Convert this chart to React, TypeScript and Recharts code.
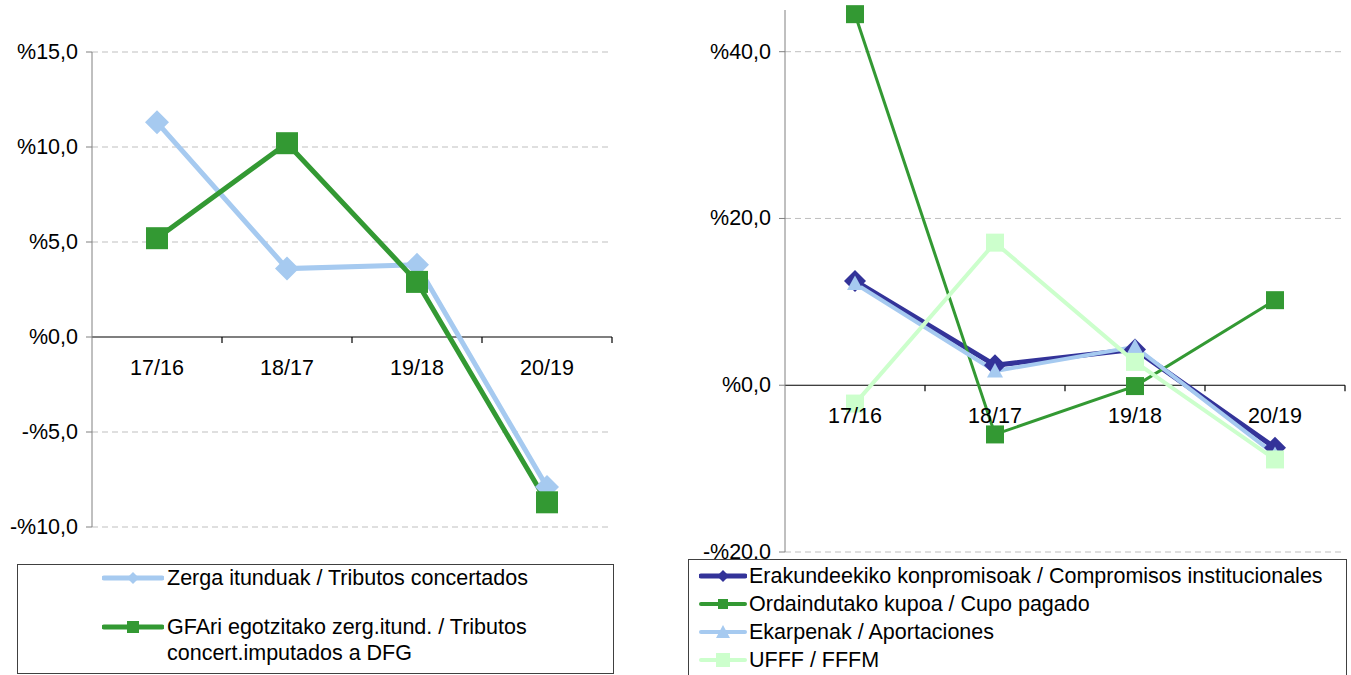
import React from 'react';
import { LineChart, Line, XAxis, YAxis, ReferenceLine } from 'recharts';

const categories = ['17/16', '18/17', '19/18', '20/19'];

// left chart
const zergaItunduak = [11.3, 3.6, 3.8, -7.9];
const gfariEgotzitako = [5.2, 10.2, 2.9, -8.7];
const leftTicks = [-10, -5, 0, 5, 10, 15];

// right chart
const erakundeekiko = [12.5, 2.4, 4.3, -7.5];
const ordaindutakoKupoa = [44.5, -5.9, -0.1, 10.2];
const ekarpenak = [12.2, 1.7, 4.6, -8.3];
const ufff = [-2.2, 17.1, 2.8, -8.9];
const rightTicks = [-20, 0, 20, 40];

const leftData = categories.map((c, i) => ({ name: c, zerga: zergaItunduak[i], gfa: gfariEgotzitako[i] }));
const rightData = categories.map((c, i) => ({
    name: c,
    erak: erakundeekiko[i],
    kupo: ordaindutakoKupoa[i],
    ekar: ekarpenak[i],
    ufff: ufff[i],
}));

const FONT = '"Liberation Sans", Arial, sans-serif';
const FS = 21.5;
const DARK_BLUE = '#333399';
const GREEN = '#339933';
const LIGHT_BLUE = '#A6CAF0';
const PALE_GREEN = '#CCFFCC';

const fmt = (v: number) => (v < 0 ? '-' : '') + '%' + Math.abs(v).toFixed(1).replace('.', ',');

const diamond = (color: string, r: number) => (p: any) => (
    <polygon key={p.index} points={`${p.cx},${p.cy - r} ${p.cx + r},${p.cy} ${p.cx},${p.cy + r} ${p.cx - r},${p.cy}`} fill={color} />
);
const square = (color: string, r: number) => (p: any) => (
    <rect key={p.index} x={p.cx - r} y={p.cy - r} width={r * 2} height={r * 2} fill={color} />
);
const triangle = (color: string, r: number) => (p: any) => (
    <polygon key={p.index} points={`${p.cx},${p.cy - r} ${p.cx + r},${p.cy + r * 0.8} ${p.cx - r},${p.cy + r * 0.8}`} fill={color} />
);

// zero line drawn with category boundary tick marks
const zeroLine = (p: any) => {
    const { x1, x2, y1 } = p;
    const step = (x2 - x1) / categories.length;
    return (
        <g>
            <line x1={x1} x2={x2} y1={y1} y2={y1} stroke="#000" strokeWidth={1.2} />
            {categories.map((_, i) => (
                <line key={i} x1={x1 + step * (i + 1)} x2={x1 + step * (i + 1)} y1={y1} y2={y1 + 6} stroke="#000" strokeWidth={1.2} />
            ))}
        </g>
    );
};

const catTick = (dy: number) => (p: any) => (
    <text x={p.x} y={p.y + dy} textAnchor="middle" fontSize={FS} fontFamily={FONT} fill="#000">
        {p.payload.value}
    </text>
);

const yTick = (p: any) => (
    <text x={p.x - 6} y={p.y + 7} textAnchor="end" fontSize={FS} fontFamily={FONT} fill="#000">
        {fmt(p.payload.value)}
    </text>
);

const LegendIcon = ({ color, width, marker, w = 62 }: { color: string; width: number; marker: React.ReactNode; w?: number }) => (
    <svg width={w} height={20} style={{ flex: 'none' }}>
        <line x1={2} x2={w - 2} y1={10} y2={10} stroke={color} strokeWidth={width} strokeLinecap="round" />
        {marker}
    </svg>
);

export default function App() {
    const leftTop = 52;
    const leftH = 475;
    const leftZero = leftTop + (leftH * 15) / 25;
    const rightTop = 10;
    const rightH = 542;
    const rightZero = rightTop + (rightH * 45) / 65;

    return (
        <div style={{ position: 'absolute', left: 0, top: 0, width: 1351, height: 675, background: '#fff', fontFamily: FONT, overflow: 'hidden' }}>
            <div style={{ position: 'absolute', left: 0, top: 0 }}>
                <LineChart width={620} height={560} data={leftData} margin={{ top: leftTop, right: 8, bottom: 560 - leftTop - leftH - 30, left: 0 }}>
                    {leftTicks.filter((t) => t !== 0).map((t) => (
                        <ReferenceLine key={t} y={t} stroke="#BFBFBF" strokeDasharray="6 4" />
                    ))}
                    <XAxis
                        dataKey="name"
                        axisLine={false}
                        tickLine={false}
                        height={30}
                        tickSize={0}
                        padding={{ left: 65, right: 65 }}
                        tick={catTick(leftZero - (leftTop + leftH) + 36)}
                        interval={0}
                    />
                    <YAxis width={92} domain={[-10, 15]} ticks={leftTicks} interval={0} stroke="#808080" tickSize={6} tick={yTick} />
                    <ReferenceLine y={0} shape={zeroLine} />
                    <Line dataKey="zerga" stroke={LIGHT_BLUE} strokeWidth={5} dot={diamond(LIGHT_BLUE, 12)} isAnimationActive={false} />
                    <Line dataKey="gfa" stroke={GREEN} strokeWidth={5} dot={square(GREEN, 11)} isAnimationActive={false} />
                </LineChart>
            </div>
            <div style={{ position: 'absolute', left: 680, top: 0 }}>
                <LineChart width={671} height={560} data={rightData} margin={{ top: rightTop, right: 6, bottom: 560 - rightTop - rightH - 30, left: 0 }}>
                    {rightTicks.filter((t) => t !== 0).map((t) => (
                        <ReferenceLine key={t} y={t} stroke="#BFBFBF" strokeDasharray="6 4" />
                    ))}
                    <XAxis
                        dataKey="name"
                        axisLine={false}
                        tickLine={false}
                        height={30}
                        tickSize={0}
                        padding={{ left: 70, right: 70 }}
                        tick={catTick(rightZero - (rightTop + rightH) + 36)}
                        interval={0}
                    />
                    <YAxis width={105} domain={[-20, 45]} ticks={rightTicks} interval={0} stroke="#808080" tickSize={6} tick={yTick} />
                    <ReferenceLine y={0} shape={zeroLine} />
                    <Line dataKey="erak" stroke={DARK_BLUE} strokeWidth={5} dot={diamond(DARK_BLUE, 11)} isAnimationActive={false} />
                    <Line dataKey="kupo" stroke={GREEN} strokeWidth={3} dot={square(GREEN, 9)} isAnimationActive={false} />
                    <Line dataKey="ekar" stroke={LIGHT_BLUE} strokeWidth={4} dot={triangle(LIGHT_BLUE, 8)} isAnimationActive={false} />
                    <Line dataKey="ufff" stroke={PALE_GREEN} strokeWidth={4} dot={square(PALE_GREEN, 9)} isAnimationActive={false} />
                </LineChart>
            </div>

            {/* left legend */}
            <div style={{ position: 'absolute', left: 17, top: 564, width: 595, height: 108, border: '1px solid #404040', background: '#fff', fontSize: FS, lineHeight: '26px' }}>
                <div style={{ position: 'absolute', left: 84, top: 0, display: 'flex', alignItems: 'center' }}>
                    <LegendIcon color={LIGHT_BLUE} width={5} marker={<polygon points="31,4 37,10 31,16 25,10" fill={LIGHT_BLUE} />} />
                    <span style={{ marginLeft: 3 }}>Zerga itunduak / Tributos concertados</span>
                </div>
                <div style={{ position: 'absolute', left: 84, top: 52, display: 'flex', alignItems: 'flex-start' }}>
                    <LegendIcon color={GREEN} width={5} marker={<rect x={25} y={4} width={12} height={12} fill={GREEN} />} />
                    <span style={{ marginLeft: 3, marginTop: -3 }}>
                        GFAri egotzitako zerg.itund. / Tributos
                        <br />
                        concert.imputados a DFG
                    </span>
                </div>
            </div>

            {/* right legend */}
            <div style={{ position: 'absolute', left: 688, top: 559, width: 657, height: 120, border: '1px solid #404040', background: '#fff', fontSize: FS, lineHeight: '28px', paddingTop: 2 }}>
                {[
                    { label: 'Erakundeekiko konpromisoak / Compromisos institucionales', color: DARK_BLUE, w: 5, m: <polygon points="24,4 30,10 24,16 18,10" fill={DARK_BLUE} /> },
                    { label: 'Ordaindutako kupoa / Cupo pagado', color: GREEN, w: 4, m: <rect x={19} y={5} width={10} height={10} fill={GREEN} /> },
                    { label: 'Ekarpenak / Aportaciones', color: LIGHT_BLUE, w: 4, m: <polygon points="24,3 31,16 17,16" fill={LIGHT_BLUE} /> },
                    { label: 'UFFF / FFFM', color: PALE_GREEN, w: 4, m: <rect x={17} y={3} width={14} height={14} fill={PALE_GREEN} /> },
                ].map((it) => (
                    <div key={it.label} style={{ display: 'flex', alignItems: 'center', marginLeft: 10 }}>
                        <LegendIcon color={it.color} width={it.w} marker={it.m} w={48} />
                        <span style={{ marginLeft: 2 }}>{it.label}</span>
                    </div>
                ))}
            </div>
        </div>
    );
}
